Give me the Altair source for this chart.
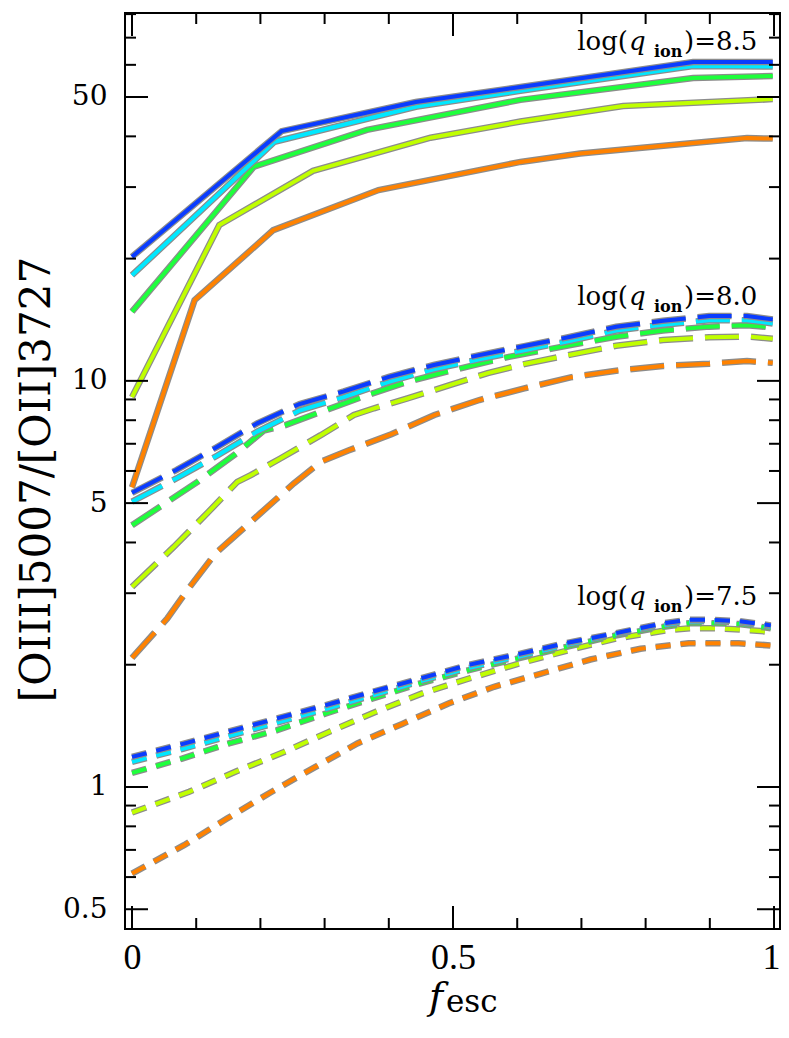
import altair as alt
import pandas as pd

# ---------------- data ----------------
# log(q_ion) = 8.5  (solid lines)
F_B85 = [0.0, 0.233, 0.442, 0.605, 0.874, 0.998]
R_B85 = [20.2, 41.2, 48.6, 52.9, 61.0, 61.0]
F_C85 = [0.0, 0.222, 0.442, 0.605, 0.874, 0.998]
R_C85 = [18.2, 38.8, 47.3, 51.8, 59.6, 59.4]
F_G85 = [0.0, 0.19, 0.366, 0.605, 0.874, 0.998]
R_G85 = [14.8, 33.7, 41.5, 49.2, 55.7, 56.3]
F_Y85 = [0.0, 0.136, 0.282, 0.465, 0.605, 0.765, 0.998]
R_Y85 = [9.12, 24.2, 32.9, 39.7, 43.5, 47.5, 49.4]
F_O85 = [0.0, 0.0975, 0.22, 0.384, 0.605, 0.698, 0.958, 0.998]
R_O85 = [5.47, 15.8, 23.5, 29.5, 34.6, 36.3, 39.6, 39.5]

# log(q_ion) = 8.0  (long dashes)
F_B80 = [0.0, 0.069, 0.133, 0.195, 0.261, 0.33, 0.40, 0.47, 0.541, 0.611, 0.683, 0.754, 0.827, 0.899, 0.958, 0.998]
R_B80 = [5.30, 6.03, 6.88, 7.86, 8.77, 9.42, 10.23, 10.94, 11.57, 12.18, 12.84, 13.59, 14.06, 14.44, 14.44, 14.17]
F_C80 = F_B80
R_C80 = [5.04, 5.75, 6.55, 7.5, 8.45, 9.12, 9.95, 10.68, 11.3, 11.9, 12.55, 13.3, 13.75, 14.1, 14.1, 13.85]
F_G80 = [0.0, 0.102, 0.161, 0.205, 0.239, 0.288, 0.356, 0.429, 0.496, 0.587, 0.683, 0.754, 0.827, 0.899, 0.958, 0.998]
R_G80 = [4.41, 5.64, 6.60, 7.54, 7.78, 8.32, 9.10, 9.95, 10.59, 11.46, 12.25, 12.84, 13.3, 13.6, 13.7, 13.55]
F_Y80 = [0.0, 0.065, 0.117, 0.164, 0.185, 0.231, 0.294, 0.3455, 0.377, 0.429, 0.496, 0.554, 0.611, 0.683, 0.754, 0.827, 0.899, 0.958, 0.998]
R_Y80 = [3.11, 3.90, 4.72, 5.64, 5.86, 6.44, 7.35, 8.24, 8.56, 9.05, 9.77, 10.45, 11.0, 11.6, 12.2, 12.6, 12.8, 12.86, 12.7]
F_O80 = [0.0, 0.055, 0.086, 0.130, 0.2, 0.252, 0.294, 0.336, 0.404, 0.471, 0.541, 0.611, 0.683, 0.754, 0.827, 0.899, 0.958, 0.998]
R_O80 = [2.08, 2.60, 3.05, 3.76, 4.72, 5.59, 6.32, 6.73, 7.39, 8.24, 8.97, 9.58, 10.2, 10.59, 10.88, 11.02, 11.19, 11.08]

# log(q_ion) = 7.5  (short dashes)
F_B75 = [0.0, 0.078, 0.151, 0.226, 0.302, 0.374, 0.449, 0.525, 0.6, 0.675, 0.753, 0.828, 0.867, 0.906, 0.945, 0.995]
R_B75 = [1.186, 1.275, 1.37, 1.475, 1.59, 1.715, 1.85, 2.0, 2.12, 2.26, 2.39, 2.53, 2.58, 2.58, 2.56, 2.50]
F_C75 = F_B75
R_C75 = [1.153, 1.24, 1.335, 1.44, 1.555, 1.68, 1.82, 1.965, 2.09, 2.235, 2.375, 2.505, 2.555, 2.56, 2.54, 2.48]
F_G75 = F_B75
R_G75 = [1.083, 1.175, 1.28, 1.38, 1.517, 1.65, 1.80, 1.94, 2.07, 2.21, 2.36, 2.48, 2.53, 2.53, 2.52, 2.46]
F_Y75 = [0.0, 0.089, 0.161, 0.237, 0.307, 0.379, 0.452, 0.525, 0.601, 0.679, 0.754, 0.832, 0.871, 0.912, 0.949, 0.995]
R_Y75 = [0.865, 0.973, 1.09, 1.22, 1.367, 1.53, 1.70, 1.85, 2.01, 2.17, 2.32, 2.43, 2.46, 2.46, 2.44, 2.41]
F_O75 = [0.0, 0.081, 0.148, 0.213, 0.281, 0.351, 0.421, 0.493, 0.564, 0.636, 0.714, 0.792, 0.867, 0.945, 0.995]
R_O75 = [0.612, 0.719, 0.836, 0.964, 1.11, 1.28, 1.43, 1.606, 1.765, 1.90, 2.06, 2.19, 2.26, 2.26, 2.23]

LEVELS = ["8.5", "8.0", "7.5"]
X_LABELS = [0, 0.5, 1]
X_MINOR = [0.1, 0.2, 0.3, 0.4, 0.6, 0.7, 0.8, 0.9]
Y_LABELS = [0.5, 1, 5, 10, 50]
Y_MINOR = [0.6, 0.7, 0.8, 0.9, 2, 3, 4, 6, 7, 8, 9, 20, 30, 40, 60, 70, 80]
Y_TITLE = "[OIII]5007/[OII]3727"

# ---------------- styling ----------------
W, H = 655, 916
XS = alt.Scale(domain=[-0.0109, 1.0093], nice=False, zero=False)
YS = alt.Scale(type="log", domain=[0.447, 80.5], nice=False)

C_BLUE, C_CYAN, C_GREEN, C_YG, C_ORANGE = "#0a3cff", "#00e8ff", "#1eff3c", "#c0ff00", "#ff8200"
C_GRAY = "#8c8c8c"
LONG = [34, 12]
SHORT = [15, 10]

XAXIS = alt.Axis(values=X_LABELS, ticks=False, tickSize=0, domain=False, grid=False,
                 labelFont="Liberation Serif", labelFontSize=36, labelPadding=11,
                 labelColor="black", labelFlush=False, labelOverlap=False, format="~g",
                 labelOffset={"condition": {"test": "datum.value == 1", "value": -3}, "value": 0})
YAXIS = alt.Axis(values=Y_LABELS, ticks=False, tickSize=0, domain=False, grid=False,
                 labelFont="DejaVu Serif", labelFontSize=28, labelPadding=18,
                 labelColor="black", labelOverlap=False, format="~g",
                 title=Y_TITLE, titleFont="DejaVu Serif", titleFontSize=42,
                 titleFontWeight="normal", titleColor="black", titleX=-89, titleY=466,
                 titleAngle=270, titleAlign="center", titleBaseline="middle")


def xenc():
    return alt.X("f:Q", scale=XS, axis=XAXIS, title=None)


def yenc():
    return alt.Y("r:Q", scale=YS, axis=YAXIS)


def line_layers(F, R, color, dash):
    df = pd.DataFrame({"f": F, "r": R})
    kw = {} if dash is None else {"strokeDash": dash}
    g = alt.Chart(df).mark_line(color=C_GRAY, strokeWidth=6.5, strokeCap="butt", **kw).encode(x=xenc(), y=yenc())
    c = alt.Chart(df).mark_line(color=color, strokeWidth=4, strokeCap="butt", **kw).encode(x=xenc(), y=yenc())
    return [g, c]


def xtick_layers(vals, length):
    df = pd.DataFrame({"f": vals})
    b = alt.Chart(df).mark_rule(color="black", strokeWidth=2)
    return [b.encode(x=xenc(), y=alt.value(H), y2=alt.value(H - length)),
            b.encode(x=xenc(), y=alt.value(0), y2=alt.value(length))]


def ytick_layers(vals, length):
    df = pd.DataFrame({"r": vals})
    b = alt.Chart(df).mark_rule(color="black", strokeWidth=2)
    return [b.encode(y=yenc(), x=alt.value(0), x2=alt.value(length)),
            b.encode(y=yenc(), x=alt.value(W), x2=alt.value(W - length))]


def txt(s, px, py, size, align="left", style="normal", weight="normal", font="DejaVu Serif"):
    return alt.Chart(pd.DataFrame({"t": [s]})).mark_text(
        align=align, baseline="alphabetic", font=font, fontSize=size,
        fontStyle=style, fontWeight=weight, color="black"
    ).encode(text="t:N", x=alt.value(px), y=alt.value(py))


layers = []
groups = [
    (None, [(F_O85, R_O85, C_ORANGE), (F_Y85, R_Y85, C_YG), (F_G85, R_G85, C_GREEN),
            (F_C85, R_C85, C_CYAN), (F_B85, R_B85, C_BLUE)]),
    (LONG, [(F_O80, R_O80, C_ORANGE), (F_Y80, R_Y80, C_YG), (F_G80, R_G80, C_GREEN),
            (F_C80, R_C80, C_CYAN), (F_B80, R_B80, C_BLUE)]),
    (SHORT, [(F_O75, R_O75, C_ORANGE), (F_Y75, R_Y75, C_YG), (F_G75, R_G75, C_GREEN),
             (F_C75, R_C75, C_CYAN), (F_B75, R_B75, C_BLUE)]),
]
for dash, lines in groups:
    for F, R, col in lines:
        layers += line_layers(F, R, col, dash)

layers += xtick_layers(X_LABELS, 23) + xtick_layers(X_MINOR, 11)
layers += ytick_layers(Y_LABELS, 23) + ytick_layers(Y_MINOR, 11)

# annotations  log(q_ion)=...
for lev, base in zip(LEVELS, [37, 292, 592]):
    layers.append(txt("log(", 503, base, 26, align="right"))
    layers.append(txt("q", 504, base, 26, style="italic"))
    layers.append(txt("ion", 529, base + 7, 16, weight="bold"))
    layers.append(txt(")=" + lev, 559, base, 26))

# x-axis title  f_esc
layers.append(txt("f", 318, 996, 38, align="right", style="italic"))
layers.append(txt("esc", 321, 999, 31))

chart = alt.layer(*layers).properties(
    width=W, height=H,
    padding={"left": 117, "top": 5, "right": 1, "bottom": 95},
    autosize=alt.AutoSizeParams(type="none"),
    background="white",
).configure_view(stroke="black", strokeWidth=2)

chart.save("out.html", embed_options={"renderer": "svg", "actions": False})
